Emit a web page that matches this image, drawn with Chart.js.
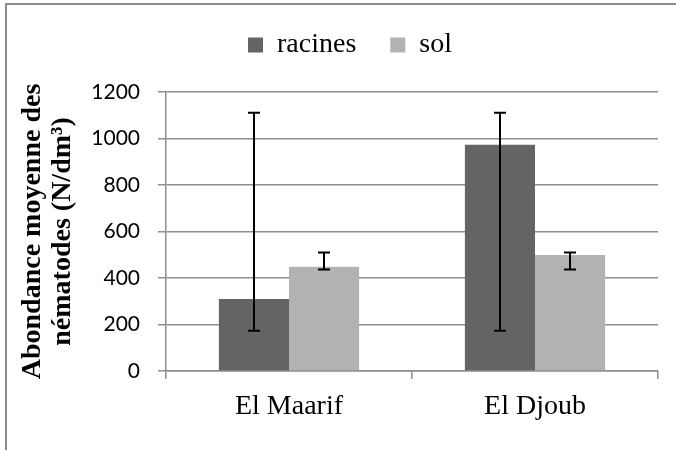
<!DOCTYPE html>
<html>
<head>
<meta charset="utf-8">
<script src="https://cdn.jsdelivr.net/npm/chart.js@4.4.1/dist/chart.umd.min.js"></script>
<style>
  body { margin: 0; background: #fff; }
  #wrap { position: relative; width: 676px; height: 450px; }
  #frame { position: absolute; left: 5px; top: 3px; right: 0; bottom: 0;
           border-top: 2px solid #8c8c8c; border-left: 2px solid #8c8c8c; pointer-events: none; }
  canvas { position: absolute; left: 0; top: 0; }
</style>
</head>
<body>
<div id="wrap">
  <canvas id="chart" width="676" height="450"></canvas>
  <div id="frame"></div>
</div>
<script>
// data
const sites = ['El Maarif', 'El Djoub'];
const racines = [310, 973];
const sol = [448, 499];
// error bar ends (low / high), per site
const racinesLow = [173, 173];
const racinesHigh = [1111, 1111];
const solLow = [437, 437];
const solHigh = [510, 510];
const yTicks = [0, 200, 400, 600, 800, 1000, 1200];

const gridGray = '#8e8e8e';
const serif = '"Liberation Serif", "Times New Roman", serif';

Chart.defaults.font.family = serif;
Chart.defaults.color = '#000';

// leave some room between the legend and the plot
const legendGap = {
    id: 'legendGap',
    beforeInit(chart) {
        if (!chart.legend) return;
        const fit = chart.legend.fit;
        chart.legend.fit = function () {
            fit.bind(chart.legend)();
            this.height += 23;
        };
    }
};

// draws the custom error bars on top of the bars
const errorBars = {
    id: 'errorBars',
    afterDatasetsDraw(chart) {
        const ctx = chart.ctx;
        const y = chart.scales.y;
        ctx.save();
        ctx.strokeStyle = '#000';
        ctx.lineWidth = 2;
        chart.data.datasets.forEach((ds, di) => {
            const meta = chart.getDatasetMeta(di);
            meta.data.forEach((bar, i) => {
                const top = y.getPixelForValue(ds.errHigh[i]);
                const bot = y.getPixelForValue(ds.errLow[i]);
                const x = Math.round(bar.x);
                ctx.beginPath();
                ctx.moveTo(x, top); ctx.lineTo(x, bot);
                ctx.moveTo(x - 6, top); ctx.lineTo(x + 6, top);
                ctx.moveTo(x - 6, bot); ctx.lineTo(x + 6, bot);
                ctx.stroke();
            });
        });
        ctx.restore();
    }
};

const ctx = document.getElementById('chart').getContext('2d');
new Chart(ctx, {
    type: 'bar',
    data: {
        labels: sites,
        datasets: [
            { label: 'racines', data: racines, errLow: racinesLow, errHigh: racinesHigh,
              backgroundColor: '#646464' },
            { label: 'sol', data: sol, errLow: solLow, errHigh: solHigh,
              backgroundColor: '#b2b2b2' }
        ]
    },
    options: {
        responsive: false,
        animation: false,
        layout: { padding: { left: 42, right: 18, top: -3, bottom: 0 } },
        datasets: { bar: { categoryPercentage: 0.57, barPercentage: 1 } },
        plugins: {
            tooltip: { enabled: false },
            legend: {
                position: 'top',
                labels: {
                    color: '#000',
                    font: { family: serif, size: 28 },
                    boxWidth: 15, boxHeight: 15, padding: 34
                }
            }
        },
        scales: {
            x: {
                grid: { offset: true, drawOnChartArea: false, drawTicks: true, tickLength: 8,
                        color: gridGray, lineWidth: 1.5 },
                border: { color: gridGray, width: 1.5 },
                ticks: { color: '#000', font: { family: serif, size: 28 }, padding: 11 },
                afterFit(scale) { scale.height = 79; }
            },
            y: {
                min: 0, max: 1200,
                afterBuildTicks(scale) { scale.ticks = yTicks.map(v => ({ value: v })); },
                grid: { color: gridGray, lineWidth: 1.5, tickLength: 8 },
                border: { color: gridGray, width: 1.5 },
                ticks: { color: '#000', font: { family: 'Lato, "Open Sans", sans-serif', size: 21 },
                         padding: 18, callback: v => String(v) },
                title: {
                    display: true,
                    text: ['Abondance moyenne des', 'nématodes (N/dm³)'],
                    color: '#000',
                    font: { family: serif, size: 28, weight: 'bold', lineHeight: 1.07 },
                    padding: { top: -24, bottom: 0 }
                },
                afterFit(scale) { scale.width = 124; }
            }
        }
    },
    plugins: [legendGap, errorBars]
});
</script>
</body>
</html>
